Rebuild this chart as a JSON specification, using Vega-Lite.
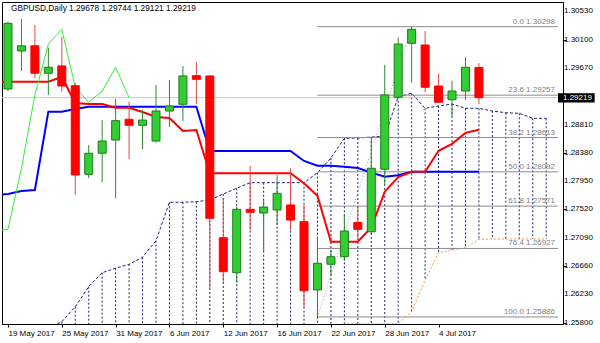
{
  "$schema": "https://vega.github.io/schema/vega-lite/v6.json",
  "width": 561,
  "height": 322,
  "autosize": {"type": "none"},
  "padding": {"left": 2, "top": 2, "right": 37, "bottom": 19},
  "background": "#ffffff",
  "config": {
    "view": {"stroke": "#000000", "strokeWidth": 1},
    "font": "Liberation Sans",
    "axis": {"tickSize": 3, "tickColor": "#000000", "domainColor": "#000000", "labelFont": "Liberation Sans", "labelFontSize": 8, "labelColor": "#000000", "grid": false, "labelFlush": false, "labelOverlap": false, "labelBound": false, "labelPadding": 2},
    "axisX": {"labelAlign": "left", "labelBaseline": "top"}
  },
  "datasets": {
    "candles": [
      {"i": 0, "date": "2017-05-19", "open": 1.29351, "high": 1.30369, "low": 1.29320, "close": 1.30349},
      {"i": 1, "date": "2017-05-22", "open": 1.29928, "high": 1.30414, "low": 1.29625, "close": 1.30008},
      {"i": 2, "date": "2017-05-23", "open": 1.30008, "high": 1.30323, "low": 1.29514, "close": 1.29590},
      {"i": 3, "date": "2017-05-24", "open": 1.29590, "high": 1.29978, "low": 1.29260, "close": 1.29681},
      {"i": 4, "date": "2017-05-25", "open": 1.29701, "high": 1.30145, "low": 1.29310, "close": 1.29396},
      {"i": 5, "date": "2017-05-26", "open": 1.29401, "high": 1.29447, "low": 1.27740, "close": 1.28044},
      {"i": 6, "date": "2017-05-29", "open": 1.28054, "high": 1.28499, "low": 1.27994, "close": 1.28374},
      {"i": 7, "date": "2017-05-30", "open": 1.28374, "high": 1.28879, "low": 1.27933, "close": 1.28560},
      {"i": 8, "date": "2017-05-31", "open": 1.28575, "high": 1.29199, "low": 1.27689, "close": 1.28869},
      {"i": 9, "date": "2017-06-01", "open": 1.28890, "high": 1.29158, "low": 1.28283, "close": 1.28799},
      {"i": 10, "date": "2017-06-02", "open": 1.28799, "high": 1.29031, "low": 1.28438, "close": 1.28879},
      {"i": 11, "date": "2017-06-05", "open": 1.28560, "high": 1.29412, "low": 1.28534, "close": 1.29016},
      {"i": 12, "date": "2017-06-06", "open": 1.29016, "high": 1.29488, "low": 1.28777, "close": 1.29092},
      {"i": 13, "date": "2017-06-07", "open": 1.29118, "high": 1.29701, "low": 1.28864, "close": 1.29549},
      {"i": 14, "date": "2017-06-08", "open": 1.29553, "high": 1.29766, "low": 1.29118, "close": 1.29498},
      {"i": 15, "date": "2017-06-09", "open": 1.29549, "high": 1.29560, "low": 1.26322, "close": 1.27385},
      {"i": 16, "date": "2017-06-12", "open": 1.27090, "high": 1.27689, "low": 1.26398, "close": 1.26574},
      {"i": 17, "date": "2017-06-13", "open": 1.26559, "high": 1.27557, "low": 1.26407, "close": 1.27522},
      {"i": 18, "date": "2017-06-14", "open": 1.27522, "high": 1.28181, "low": 1.27207, "close": 1.27477},
      {"i": 19, "date": "2017-06-15", "open": 1.27466, "high": 1.27664, "low": 1.26877, "close": 1.27557},
      {"i": 20, "date": "2017-06-16", "open": 1.27512, "high": 1.28044, "low": 1.27283, "close": 1.27765},
      {"i": 21, "date": "2017-06-19", "open": 1.27588, "high": 1.28146, "low": 1.27207, "close": 1.27359},
      {"i": 22, "date": "2017-06-20", "open": 1.27334, "high": 1.27588, "low": 1.26027, "close": 1.26285},
      {"i": 23, "date": "2017-06-21", "open": 1.26296, "high": 1.27090, "low": 1.25886, "close": 1.26702},
      {"i": 24, "date": "2017-06-22", "open": 1.26687, "high": 1.26903, "low": 1.26524, "close": 1.26802},
      {"i": 25, "date": "2017-06-23", "open": 1.26802, "high": 1.27451, "low": 1.26737, "close": 1.27192},
      {"i": 26, "date": "2017-06-26", "open": 1.27324, "high": 1.27577, "low": 1.27070, "close": 1.27218},
      {"i": 27, "date": "2017-06-27", "open": 1.27181, "high": 1.28616, "low": 1.27162, "close": 1.28146},
      {"i": 28, "date": "2017-06-28", "open": 1.28131, "high": 1.29716, "low": 1.27907, "close": 1.29260},
      {"i": 29, "date": "2017-06-29", "open": 1.29225, "high": 1.30136, "low": 1.29210, "close": 1.30034},
      {"i": 30, "date": "2017-06-30", "open": 1.30045, "high": 1.30298, "low": 1.29447, "close": 1.30258},
      {"i": 31, "date": "2017-07-03", "open": 1.30019, "high": 1.30232, "low": 1.29301, "close": 1.29377},
      {"i": 32, "date": "2017-07-04", "open": 1.29396, "high": 1.29579, "low": 1.29140, "close": 1.29149},
      {"i": 33, "date": "2017-07-05", "open": 1.29188, "high": 1.29477, "low": 1.28930, "close": 1.29320},
      {"i": 34, "date": "2017-07-06", "open": 1.29320, "high": 1.29833, "low": 1.29184, "close": 1.29681},
      {"i": 35, "date": "2017-07-07", "open": 1.29678, "high": 1.29744, "low": 1.29121, "close": 1.29219}
    ],
    "ichimoku": [
      {"i": -1, "tenkan": 1.29462, "kijun": 1.27740, "chikou": 1.27192, "spanA": null, "spanB": null},
      {"i": 0, "tenkan": 1.29462, "kijun": 1.27755, "chikou": 1.27218, "spanA": null, "spanB": null},
      {"i": 1, "tenkan": 1.29462, "kijun": 1.27800, "chikou": 1.28146, "spanA": null, "spanB": null},
      {"i": 2, "tenkan": 1.29462, "kijun": 1.27816, "chikou": 1.29260, "spanA": null, "spanB": null},
      {"i": 3, "tenkan": 1.29462, "kijun": 1.29006, "chikou": 1.30034, "spanA": 1.25718, "spanB": 1.25700},
      {"i": 4, "tenkan": 1.29533, "kijun": 1.29006, "chikou": 1.30258, "spanA": 1.25814, "spanB": 1.25700},
      {"i": 5, "tenkan": 1.29138, "kijun": 1.29047, "chikou": 1.29377, "spanA": 1.26042, "spanB": 1.25700},
      {"i": 6, "tenkan": 1.29123, "kijun": 1.29082, "chikou": 1.29149, "spanA": 1.26346, "spanB": 1.25700},
      {"i": 7, "tenkan": 1.29123, "kijun": 1.29082, "chikou": 1.29320, "spanA": 1.26559, "spanB": 1.25700},
      {"i": 8, "tenkan": 1.29066, "kijun": 1.29082, "chikou": 1.29681, "spanA": 1.26626, "spanB": 1.25700},
      {"i": 9, "tenkan": 1.29066, "kijun": 1.29082, "chikou": 1.29219, "spanA": 1.26687, "spanB": 1.25700},
      {"i": 10, "tenkan": 1.29001, "kijun": 1.29082, "chikou": null, "spanA": 1.26793, "spanB": 1.25700},
      {"i": 11, "tenkan": 1.28925, "kijun": 1.29082, "chikou": null, "spanA": 1.27045, "spanB": 1.25700},
      {"i": 12, "tenkan": 1.28910, "kijun": 1.29082, "chikou": null, "spanA": 1.27629, "spanB": 1.25700},
      {"i": 13, "tenkan": 1.28712, "kijun": 1.29082, "chikou": null, "spanA": 1.27629, "spanB": 1.25700},
      {"i": 14, "tenkan": 1.28727, "kijun": 1.29082, "chikou": null, "spanA": 1.27638, "spanB": 1.25700},
      {"i": 15, "tenkan": 1.28070, "kijun": 1.28408, "chikou": null, "spanA": 1.27664, "spanB": 1.25700},
      {"i": 16, "tenkan": 1.28070, "kijun": 1.28408, "chikou": null, "spanA": 1.27755, "spanB": 1.25700},
      {"i": 17, "tenkan": 1.28070, "kijun": 1.28408, "chikou": null, "spanA": 1.27842, "spanB": 1.25700},
      {"i": 18, "tenkan": 1.28070, "kijun": 1.28408, "chikou": null, "spanA": 1.27927, "spanB": 1.25700},
      {"i": 19, "tenkan": 1.28070, "kijun": 1.28408, "chikou": null, "spanA": 1.27927, "spanB": 1.25700},
      {"i": 20, "tenkan": 1.28070, "kijun": 1.28408, "chikou": null, "spanA": 1.27927, "spanB": 1.25700},
      {"i": 21, "tenkan": 1.28070, "kijun": 1.28408, "chikou": null, "spanA": 1.27927, "spanB": 1.25700},
      {"i": 22, "tenkan": 1.27918, "kijun": 1.28257, "chikou": null, "spanA": 1.27927, "spanB": 1.25700},
      {"i": 23, "tenkan": 1.27729, "kijun": 1.28185, "chikou": null, "spanA": 1.28079, "spanB": 1.25700},
      {"i": 24, "tenkan": 1.27029, "kijun": 1.28185, "chikou": null, "spanA": 1.28302, "spanB": 1.25700},
      {"i": 25, "tenkan": 1.27029, "kijun": 1.28170, "chikou": null, "spanA": 1.28601, "spanB": 1.25782},
      {"i": 26, "tenkan": 1.27029, "kijun": 1.28150, "chikou": null, "spanA": 1.28606, "spanB": 1.25782},
      {"i": 27, "tenkan": 1.27245, "kijun": 1.28080, "chikou": null, "spanA": 1.28621, "spanB": 1.25782},
      {"i": 28, "tenkan": 1.27790, "kijun": 1.28016, "chikou": null, "spanA": 1.28636, "spanB": 1.25782},
      {"i": 29, "tenkan": 1.28011, "kijun": 1.28040, "chikou": null, "spanA": 1.29234, "spanB": 1.25782},
      {"i": 30, "tenkan": 1.28092, "kijun": 1.28092, "chikou": null, "spanA": 1.29285, "spanB": 1.25966},
      {"i": 31, "tenkan": 1.28092, "kijun": 1.28092, "chikou": null, "spanA": 1.29057, "spanB": 1.26448},
      {"i": 32, "tenkan": 1.28411, "kijun": 1.28092, "chikou": null, "spanA": 1.29092, "spanB": 1.26863},
      {"i": 33, "tenkan": 1.28518, "kijun": 1.28092, "chikou": null, "spanA": 1.29123, "spanB": 1.26904},
      {"i": 34, "tenkan": 1.28684, "kijun": 1.28092, "chikou": null, "spanA": 1.29057, "spanB": 1.26939},
      {"i": 35, "tenkan": 1.28730, "kijun": 1.28092, "chikou": null, "spanA": 1.29057, "spanB": 1.27067},
      {"i": 36, "tenkan": null, "kijun": null, "chikou": null, "spanA": 1.29016, "spanB": 1.27071},
      {"i": 37, "tenkan": null, "kijun": null, "chikou": null, "spanA": 1.28990, "spanB": 1.27071},
      {"i": 38, "tenkan": null, "kijun": null, "chikou": null, "spanA": 1.28981, "spanB": 1.27071},
      {"i": 39, "tenkan": null, "kijun": null, "chikou": null, "spanA": 1.28905, "spanB": 1.27071},
      {"i": 40, "tenkan": null, "kijun": null, "chikou": null, "spanA": 1.28905, "spanB": 1.27071}
    ],
    "fib": [
      {"level": "0.0", "price": 1.30298, "label": "0.0 1.30298"},
      {"level": "23.6", "price": 1.29257, "label": "23.6 1.29257"},
      {"level": "38.2", "price": 1.28613, "label": "38.2 1.28613"},
      {"level": "50.0", "price": 1.28092, "label": "50.0 1.28092"},
      {"level": "61.8", "price": 1.27571, "label": "61.8 1.27571"},
      {"level": "76.4", "price": 1.26927, "label": "76.4 1.26927"},
      {"level": "100.0", "price": 1.25886, "label": "100.0 1.25886"}
    ],
    "fibAnchors": [
      {"i": 23, "price": 1.25886},
      {"i": 30, "price": 1.30298}
    ],
    "priceTicks": [
      {"tick": 1.25800}, {"tick": 1.26230}, {"tick": 1.26660}, {"tick": 1.27090}, {"tick": 1.27520}, {"tick": 1.27950},
      {"tick": 1.28380}, {"tick": 1.28810}, {"tick": 1.29670}, {"tick": 1.30100}, {"tick": 1.30530}
    ]
  },
  "layer": [
    {
      "data": {"name": "ichimoku"},
      "transform": [{"filter": "datum.spanA != null && datum.i >= 4"}],
      "mark": {"type": "rule", "clip": true, "stroke": "#1f1f7a", "strokeWidth": 1, "strokeDash": [2, 2]},
      "encoding": {
        "x": {"field": "i", "type": "quantitative", "title": null, "scale": {"domain": [-0.073, 40.876], "nice": false, "zero": false},
          "axis": {"orient": "bottom", "title": null, "labelOverlap": false, "values": [0, 4, 8, 12, 16, 20, 24, 28, 32],
            "labelExpr": "datum.value == 0 ? '19 May 2017' : datum.value == 4 ? '25 May 2017' : datum.value == 8 ? '31 May 2017' : datum.value == 12 ? '6 Jun 2017' : datum.value == 16 ? '12 Jun 2017' : datum.value == 20 ? '16 Jun 2017' : datum.value == 24 ? '22 Jun 2017' : datum.value == 28 ? '28 Jun 2017' : '4 Jul 2017'"}},
        "y": {"field": "spanA", "type": "quantitative", "title": null, "scale": {"domain": [1.25779, 1.30673], "nice": false, "zero": false},
          "axis": {"orient": "right", "title": null, "labels": false, "values": [1.258, 1.2623, 1.2666, 1.2709, 1.2752, 1.2795, 1.2838, 1.2881, 1.2924, 1.2967, 1.301, 1.3053]}},
        "y2": {"field": "spanB"}
      }
    },
    {
      "data": {"name": "ichimoku"},
      "transform": [{"filter": "datum.spanA != null"}],
      "mark": {"type": "line", "clip": true, "stroke": "#1f1f7a", "strokeWidth": 1, "strokeDash": [3, 2]},
      "encoding": {
        "x": {"field": "i", "type": "quantitative", "title": null},
        "y": {"field": "spanA", "type": "quantitative", "title": null}
      }
    },
    {
      "data": {"name": "ichimoku"},
      "transform": [{"filter": "datum.spanB != null"}],
      "mark": {"type": "line", "clip": true, "stroke": "#f09a3a", "strokeWidth": 1, "strokeDash": [2, 2]},
      "encoding": {
        "x": {"field": "i", "type": "quantitative", "title": null},
        "y": {"field": "spanB", "type": "quantitative", "title": null}
      }
    },
    {
      "data": {"values": [{"price": 1.29219}]},
      "mark": {"type": "rule", "stroke": "#c8c8c8", "strokeWidth": 1},
      "encoding": {
        "y": {"field": "price", "type": "quantitative", "title": null}
      }
    },
    {
      "data": {"name": "fib"},
      "mark": {"type": "rule", "stroke": "#8c8c8c", "strokeWidth": 1},
      "encoding": {
        "x": {"datum": 23, "type": "quantitative", "title": null},
        "x2": {"datum": 40.876},
        "y": {"field": "price", "type": "quantitative", "title": null}
      }
    },
    {
      "data": {"name": "fibAnchors"},
      "mark": {"type": "line", "stroke": "#a8a8a8", "strokeWidth": 1, "strokeDash": [1, 2]},
      "encoding": {
        "x": {"field": "i", "type": "quantitative", "title": null},
        "y": {"field": "price", "type": "quantitative", "title": null}
      }
    },
    {
      "data": {"name": "fib"},
      "mark": {"type": "text", "align": "right", "baseline": "bottom", "dx": -3, "dy": -1, "font": "Liberation Sans", "fontSize": 8, "fill": "#7f7f7f"},
      "encoding": {
        "x": {"datum": 40.876, "type": "quantitative", "title": null},
        "y": {"field": "price", "type": "quantitative", "title": null},
        "text": {"field": "label"}
      }
    },
    {
      "data": {"name": "ichimoku"},
      "transform": [{"filter": "datum.kijun != null"}],
      "mark": {"type": "line", "clip": true, "stroke": "#0000ff", "strokeWidth": 2},
      "encoding": {
        "x": {"field": "i", "type": "quantitative", "title": null},
        "y": {"field": "kijun", "type": "quantitative", "title": null}
      }
    },
    {
      "data": {"name": "ichimoku"},
      "transform": [{"filter": "datum.tenkan != null"}],
      "mark": {"type": "line", "clip": true, "stroke": "#ff0000", "strokeWidth": 2},
      "encoding": {
        "x": {"field": "i", "type": "quantitative", "title": null},
        "y": {"field": "tenkan", "type": "quantitative", "title": null}
      }
    },
    {
      "data": {"name": "ichimoku"},
      "transform": [{"filter": "datum.chikou != null"}],
      "mark": {"type": "line", "clip": true, "stroke": "#33ee33", "strokeWidth": 1},
      "encoding": {
        "x": {"field": "i", "type": "quantitative", "title": null},
        "y": {"field": "chikou", "type": "quantitative", "title": null}
      }
    },
    {
      "data": {"name": "candles"},
      "mark": {"type": "rule", "strokeWidth": 1},
      "encoding": {
        "x": {"field": "i", "type": "quantitative", "title": null},
        "y": {"field": "low", "type": "quantitative", "title": null},
        "y2": {"field": "high"},
        "stroke": {"condition": {"test": "datum.close >= datum.open", "value": "#2f8a2f"}, "value": "#e04848"}
      }
    },
    {
      "data": {"name": "candles"},
      "mark": {"type": "bar", "orient": "vertical", "size": 8, "strokeWidth": 1},
      "encoding": {
        "x": {"field": "i", "type": "quantitative", "title": null},
        "y": {"field": "open", "type": "quantitative", "title": null},
        "y2": {"field": "close"},
        "fill": {"condition": {"test": "datum.close >= datum.open", "value": "#32cd32"}, "value": "#ff0000"},
        "stroke": {"condition": {"test": "datum.close >= datum.open", "value": "#1e7a1e"}, "value": "#ff0000"}
      }
    },
    {
      "data": {"values": [{"symbol": "GBPUSD,Daily  1.29678 1.29744 1.29121 1.29219"}]},
      "mark": {"type": "text", "align": "left", "baseline": "middle", "dx": 4, "dy": 7, "font": "Liberation Sans", "fontSize": 8.3, "fill": "#000000"},
      "encoding": {
        "x": {"datum": -0.073, "type": "quantitative", "title": null},
        "y": {"datum": 1.30673, "type": "quantitative", "title": null},
        "text": {"field": "symbol"}
      }
    },
    {
      "data": {"name": "priceTicks"},
      "mark": {"type": "text", "align": "left", "baseline": "middle", "dx": 6, "font": "Liberation Sans", "fontSize": 8, "fill": "#000000"},
      "encoding": {
        "x": {"datum": 40.876, "type": "quantitative", "title": null},
        "y": {"field": "tick", "type": "quantitative", "title": null},
        "text": {"field": "tick", "type": "quantitative", "format": ".5f"}
      }
    },
    {
      "data": {"values": [{"price": 1.29219}]},
      "mark": {"type": "rect", "fill": "#000000"},
      "encoding": {
        "x": {"datum": 40.876, "type": "quantitative", "title": null},
        "x2": {"datum": 43.6},
        "y": {"datum": 1.29285, "type": "quantitative", "title": null},
        "y2": {"datum": 1.29146}
      }
    },
    {
      "data": {"values": [{"price": 1.29219, "label": "1.29219"}]},
      "mark": {"type": "text", "align": "left", "baseline": "middle", "dx": 5, "font": "Liberation Sans", "fontSize": 8, "fill": "#ffffff"},
      "encoding": {
        "x": {"datum": 40.876, "type": "quantitative", "title": null},
        "y": {"field": "price", "type": "quantitative", "title": null},
        "text": {"field": "label"}
      }
    }
  ]
}
